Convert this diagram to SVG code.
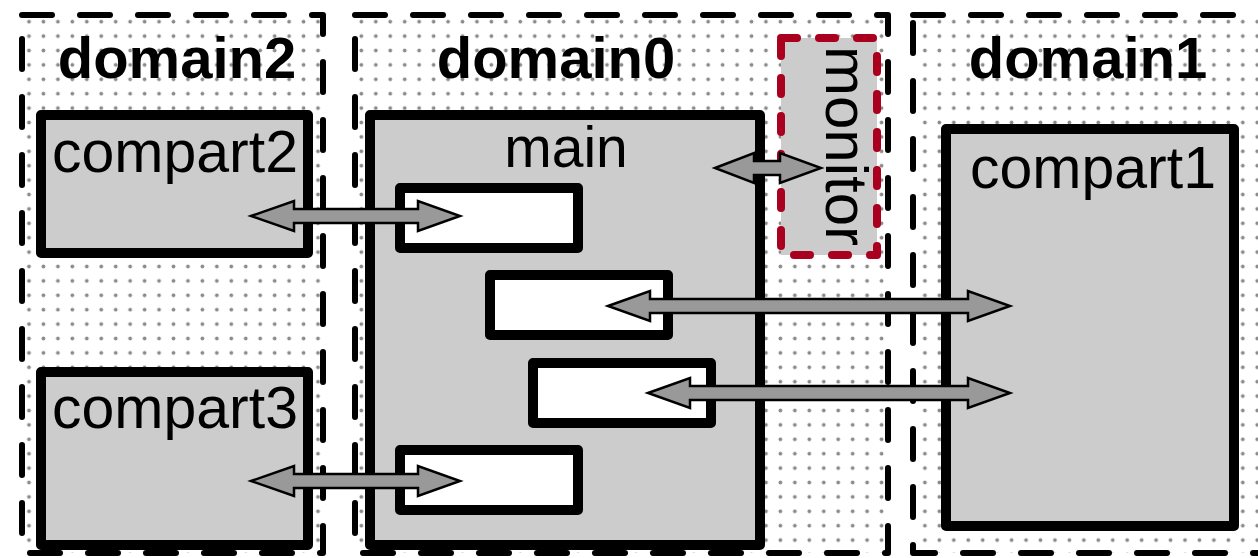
<svg xmlns="http://www.w3.org/2000/svg" width="1258" height="558" viewBox="0 0 1258 558">
<defs>
<pattern id="dots" x="21.8" y="14.5" width="14.45" height="14.4" patternUnits="userSpaceOnUse">
<circle cx="7.2" cy="7.2" r="1.9" fill="#8a8a8a"/>
</pattern>
<style>
.domain{fill:url(#dots);stroke:#000;stroke-width:6;stroke-dasharray:30 28;stroke-linecap:round;stroke-linejoin:round}
.box{fill:#cccccc;stroke:#000;stroke-width:10;stroke-linejoin:round}
.slot{fill:#ffffff;stroke:#000;stroke-width:10;stroke-linejoin:round}
.mon{fill:#cccccc;stroke:#a8001e;stroke-width:8;stroke-dasharray:16 22;stroke-linecap:round;stroke-linejoin:round}
.arrow{fill:#999999;stroke:#000;stroke-width:2.5;stroke-linejoin:miter}
.dlabel{font-family:"Liberation Sans",Arial,sans-serif;font-weight:bold;font-size:58px;fill:#000;text-anchor:middle}
.label{font-family:"Liberation Sans",Arial,sans-serif;font-size:59px;fill:#000;text-anchor:middle}
</style>
</defs>
<rect width="1258" height="558" fill="#ffffff"/>
<g id="domain2">
<rect class="domain" x="22" y="15" width="301" height="538"/>
<text class="dlabel" x="177" y="78">domain2</text>
</g>
<g id="domain0">
<rect class="domain" x="355" y="15" width="533" height="538"/>
<text class="dlabel" x="556" y="78">domain0</text>
</g>
<g id="domain1">
<rect class="domain" x="913" y="15" width="380" height="538"/>
<text class="dlabel" x="1088" y="78">domain1</text>
</g>
<g id="compart2">
<rect class="box" x="41" y="115" width="267" height="138"/>
<text class="label" x="175" y="172">compart2</text>
</g>
<g id="compart3">
<rect class="box" x="41" y="372" width="267" height="173"/>
<text class="label" x="175" y="428">compart3</text>
</g>
<g id="main">
<rect class="box" x="370" y="115" width="390" height="430"/>
<text class="label" x="566" y="167" style="font-size:57px">main</text>
</g>
<g id="slot1"><rect class="slot" x="400" y="188" width="178" height="60"/></g>
<g id="slot2"><rect class="slot" x="490" y="275" width="178" height="60"/></g>
<g id="slot3"><rect class="slot" x="533" y="363" width="178" height="60"/></g>
<g id="slot4"><rect class="slot" x="400" y="450" width="178" height="60"/></g>
<g id="monitor">
<rect class="mon" x="781" y="38" width="96" height="217"/>
<text class="label" transform="translate(826,146) rotate(90)" x="0" y="0" style="font-size:60px">monitor</text>
</g>
<g id="compart1">
<rect class="box" x="946" y="129" width="288" height="397"/>
<text class="label" x="1093" y="188">compart1</text>
</g>
<g id="connectors">
<polygon class="arrow" points="251,216 294,201 294,209 418,209 418,201 460,216 418,231 418,223 294,223 294,231"/>
<polygon class="arrow" points="251,481 294,466 294,474 418,474 418,466 460,481 418,496 418,488 294,488 294,496"/>
<polygon class="arrow" points="608,306 650,291 650,299 968,299 968,291 1010,306 968,321 968,313 650,313 650,321"/>
<polygon class="arrow" points="648,393 690,378 690,386 968,386 968,378 1010,393 968,408 968,400 690,400 690,408"/>
<polygon class="arrow" points="715,168 754,153 754,161 780,161 780,153 821,168 780,183 780,175 754,175 754,183"/>
</g>
</svg>
